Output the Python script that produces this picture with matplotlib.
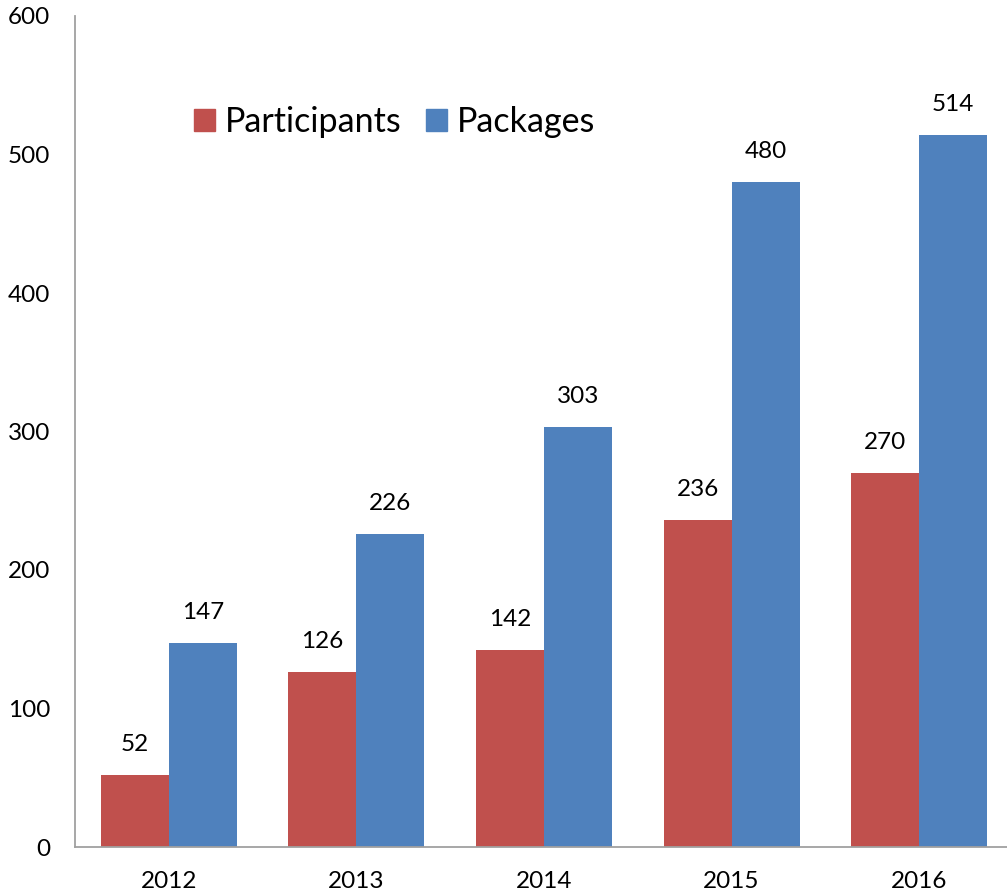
import matplotlib.pyplot as plt
import numpy as np
from matplotlib.patches import Patch

years = ['2012', '2013', '2014', '2015', '2016']
participants = [52, 126, 142, 236, 270]
packages = [147, 226, 303, 480, 514]

red = '#C0504D'
blue = '#4F81BD'

plt.rcParams['font.family'] = ['Lato', 'DejaVu Sans']

fig = plt.figure(figsize=(10.07, 8.94), dpi=100)
ax = fig.add_axes([75 / 1007, 47 / 894, 938 / 1007, 831 / 894])

x = np.arange(len(years))
w = 0.362
b1 = ax.bar(x - w / 2, participants, w, color=red, label='Participants')
b2 = ax.bar(x + w / 2, packages, w, color=blue, label='Packages')

for bars, vals in ((b1, participants), (b2, packages)):
    for rect, v in zip(bars, vals):
        ax.annotate(str(v), (rect.get_x() + rect.get_width() / 2, v),
                    xytext=(0, 22), textcoords='offset points',
                    ha='center', va='center', fontsize=17.5)

ax.set_xlim(-0.5, 4.5)
ax.set_ylim(0, 600)
ax.set_xticks(x)
ax.set_xticklabels(years)
ax.set_yticks(range(0, 601, 100))
ax.tick_params(axis='both', length=0, labelsize=17.5)
ax.tick_params(axis='x', pad=17)
ax.tick_params(axis='y', pad=18)
ax.spines['top'].set_visible(False)
ax.spines['right'].set_visible(False)
ax.spines['left'].set_color('#A0A0A0')
ax.spines['bottom'].set_color('#A0A0A0')
ax.spines['left'].set_linewidth(1.3)
ax.spines['bottom'].set_linewidth(1.3)

handles = [Patch(color=red), Patch(color=blue)]
fig.legend(handles, ['Participants', 'Packages'], loc='center left',
           bbox_to_anchor=(194 / 1007, 1 - 122 / 894), ncol=2, frameon=False,
           fontsize=24.5, handlelength=0.62, handleheight=0.62,
           handletextpad=0.3, columnspacing=0.7, borderpad=0, borderaxespad=0)

fig.savefig('out.png', dpi=100)
